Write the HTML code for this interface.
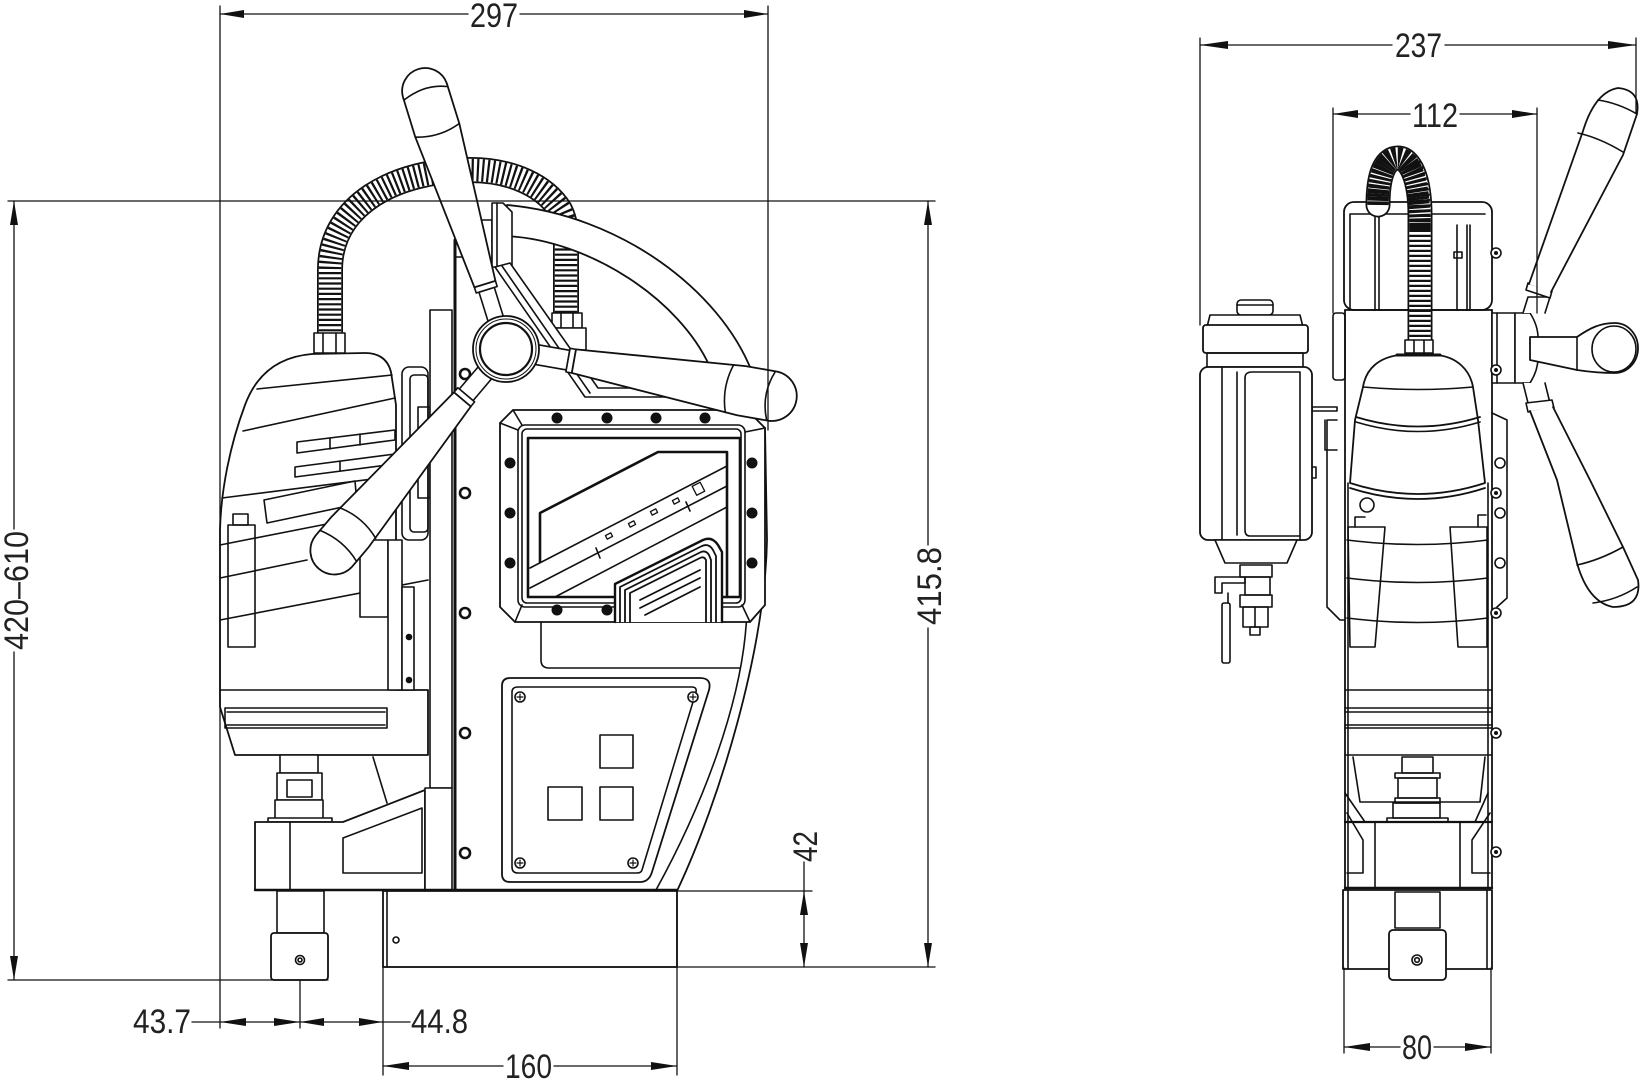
<!DOCTYPE html>
<html><head><meta charset="utf-8">
<style>html,body{margin:0;padding:0;background:#fff;}svg{display:block}</style></head>
<body>
<svg width="1641" height="1080" viewBox="0 0 1641 1080" xmlns="http://www.w3.org/2000/svg">
<rect width="1641" height="1080" fill="#fff"/>
<g fill="none" stroke="#111" stroke-width="1.6" stroke-linejoin="round" stroke-linecap="round">

<!-- ============ LEFT VIEW ============ -->
<!-- hose -->
<path d="M330,347 L330,270 C330,205 395,170 470,170 C512,170 545,186 560,210 C566,222 566,232 566,245 L566,313" stroke-width="26"/>
<path d="M330,347 L330,270 C330,205 395,170 470,170 C512,170 545,186 560,210 C566,222 566,232 566,245 L566,313" stroke="#fff" stroke-width="22.5"/>
<path d="M330,347 L330,270 C330,205 395,170 470,170 C512,170 545,186 560,210 C566,222 566,232 566,245 L566,313" stroke-width="22.5" stroke-dasharray="2.2 3" stroke-linecap="butt"/>
<rect x="314" y="333" width="31" height="20" fill="#fff"/>
<line x1="323" y1="333" x2="323" y2="353"/><line x1="336" y1="333" x2="336" y2="353"/>
<rect x="552" y="313" width="30" height="15" fill="#fff"/>
<line x1="561" y1="313" x2="561" y2="328"/><line x1="573" y1="313" x2="573" y2="328"/>
<rect x="553" y="328" width="33" height="22" fill="#fff"/>

<!-- motor -->
<path d="M220,707 L235,755 L428,755 L428,690 L396,690 L396,405 L391,372 C388,360 380,353 365,353 L312,354 C275,357 255,378 245,405 C230,445 221,490 220,530 Z" fill="#fff" stroke-width="1.8"/>
<line x1="220" y1="690" x2="396" y2="690"/>
<path d="M257,389 L392,375"/>
<path d="M243,431 L395,398"/>
<polygon points="297,442 395,430 395,440 297,453"/>
<line x1="330" y1="438" x2="330" y2="449"/><line x1="360" y1="434" x2="360" y2="445"/>
<polygon points="295,467 395,454 395,464 295,477"/>
<line x1="340" y1="461" x2="340" y2="471"/>
<path d="M222,498 L396,476"/>
<polygon points="264,500 355,481 357,504 267,523"/>
<rect x="228" y="525" width="27" height="122"/>
<rect x="233" y="514" width="15" height="11"/>
<path d="M220,545 L337,522"/>
<path d="M220,578 L307,560"/>
<path d="M220,620 L428,580"/>
<rect x="360" y="540" width="28" height="77" fill="#fff"/>
<rect x="388" y="540" width="14" height="150" fill="#fff"/>
<rect x="402" y="587" width="12" height="103" fill="#fff"/>
<circle cx="409" cy="637" r="2.5" fill="#111"/><circle cx="409" cy="680" r="2.5" fill="#111"/>
<rect x="225" y="708" width="162" height="20"/>
<line x1="227" y1="712" x2="385" y2="712"/><line x1="227" y1="725" x2="385" y2="725"/>

<!-- column -->
<rect x="402" y="367" width="26" height="173" rx="7" fill="#fff"/>
<rect x="410" y="375" width="18" height="157" rx="4"/>
<rect x="418" y="407" width="12" height="91"/>
<rect x="430" y="310" width="22" height="478" fill="#fff"/>
<rect x="480" y="220" width="12" height="40"/>
<rect x="455" y="240" width="8" height="17"/>

<!-- lower mechanism -->
<rect x="280" y="755" width="38" height="18" fill="#fff"/>
<rect x="277" y="773" width="45" height="27" fill="#fff"/>
<rect x="287" y="780" width="25" height="17"/>
<rect x="275" y="800" width="48" height="20" fill="#fff"/>
<rect x="268" y="818" width="64" height="4" fill="#fff"/>
<path d="M373,757 L387,803"/>
<path d="M255,822 L343,822 L425,790 L425,890 L255,890 Z" fill="#fff" stroke-width="1.8"/>
<line x1="290" y1="822" x2="290" y2="890"/>
<path d="M343,838 L422,808 L422,873 L343,873 Z"/>
<rect x="425" y="788" width="27" height="102" fill="#fff"/>
<rect x="277" y="891" width="47" height="42" fill="#fff"/>
<rect x="271" y="933" width="57" height="47" rx="3" fill="#fff" stroke-width="1.8"/>
<circle cx="300" cy="960" r="4.5"/><circle cx="300" cy="960" r="2"/>
<rect x="383" y="891" width="294" height="76" fill="#fff" stroke-width="1.8"/>
<line x1="387" y1="891" x2="387" y2="967"/>
<circle cx="396" cy="940" r="3"/>
<line x1="255" y1="890" x2="677" y2="890" stroke-width="2.4"/>

<!-- body -->
<path d="M765,428 L767,540 C765,650 720,800 677,891" stroke-width="1.8"/>
<path d="M747,608 C745,700 700,810 656,890"/>
<line x1="455" y1="240" x2="455" y2="890" stroke-width="3"/>
<!-- body bolts -->
<g fill="#fff" stroke-width="2.6">
<circle cx="465" cy="374" r="5"/><circle cx="465" cy="493" r="5"/><circle cx="465" cy="613" r="5"/><circle cx="465" cy="733" r="5"/><circle cx="465" cy="853" r="5"/>
</g>

<!-- window frame -->
<path d="M513,410 L747,410 L765,428 L765,605 L750,622 L515,622 L500,607 L500,423 Z" fill="#fff" stroke-width="1.8"/>
<rect x="518" y="425" width="227" height="182" rx="7"/>
<rect x="522" y="429" width="219" height="174" rx="5"/>
<rect x="528" y="438" width="212" height="159" stroke-width="2.6"/>
<path d="M500,423 L518,430 M513,410 L522,425 M765,428 L745,432 M750,622 L742,605 M515,622 L522,605"/>
<!-- window content -->
<path d="M540,562 L540,513 L658,452 L727,452 L727,597" stroke-width="2.6"/>
<path d="M530,568 L727,466"/>
<path d="M530,588 L727,486"/>
<path d="M555,597 L727,507"/>
<path d="M596,548 L600,558 M686,502 L690,511"/>
<g stroke-width="1.3">
<rect x="606" y="534" width="6" height="4" transform="rotate(-27 609 536)"/>
<rect x="629" y="522" width="6" height="4" transform="rotate(-27 632 524)"/>
<rect x="651" y="510" width="6" height="4" transform="rotate(-27 654 512)"/>
<rect x="673" y="499" width="6" height="4" transform="rotate(-27 676 501)"/>
<rect x="694" y="484" width="9" height="10" transform="rotate(-27 698 489)"/>
</g>
<!-- heat sink chevrons -->
<g stroke-width="1.8">
<path d="M615,622 L615,584 L703,540 Q712,536 718,545 L722,552 L722,622" fill="#fff" stroke-width="2.4"/>
<path d="M620,622 L620,587 L702,546 Q709,543 713,550 L716,556 L716,622"/>
<path d="M625,622 L625,590 L701,552 Q706,550 709,555 L711,560 L711,622"/>
<path d="M630,622 L630,593 L700,558 Q704,556 706,560 L706,622"/>
<path d="M640,600 L700,570 M640,608 L700,578 M645,615 L700,587"/>
</g>
<!-- frame bolts -->
<g fill="#111" stroke-width="1">
<circle cx="557" cy="418" r="5"/><circle cx="607" cy="418" r="5"/><circle cx="656" cy="418" r="5"/><circle cx="705" cy="418" r="5"/>
<circle cx="510" cy="463" r="5"/><circle cx="510" cy="513" r="5"/><circle cx="510" cy="563" r="5"/>
<circle cx="752" cy="463" r="5"/><circle cx="752" cy="513" r="5"/><circle cx="752" cy="563" r="5"/>
<circle cx="557" cy="610" r="5"/><circle cx="607" cy="610" r="5"/>
</g>
<path d="M541,622 L541,660 Q541,668 549,668 L740,668"/>

<!-- control panel -->
<path d="M510,678 L700,678 Q712,678 709,690 L652,872 Q649,882 640,882 L510,882 Q502,882 502,874 L502,686 Q502,678 510,678 Z" stroke-width="1.8"/>
<path d="M518,687 L692,687 Q697,687 696,692 L642,870 Q641,873 637,873 L518,873 Q512,873 512,867 L512,692 Q512,687 518,687 Z"/>
<g fill="#fff"><circle cx="520" cy="697" r="5"/><circle cx="693" cy="697" r="5"/><circle cx="520" cy="863" r="5"/><circle cx="633" cy="863" r="5"/></g>
<path d="M517,697 L523,697 M520,694 L520,700 M690,697 L696,697 M693,694 L693,700 M517,863 L523,863 M520,860 L520,866 M630,863 L636,863 M633,860 L633,866" stroke-width="1.2"/>
<rect x="600" y="735" width="33" height="33"/>
<rect x="548" y="787" width="34" height="33"/>
<rect x="600" y="787" width="33" height="33"/>

<!-- arc band -->
<path d="M507,205 C620,215 720,290 752,372 L710,367 C680,300 590,240 506,236 Z" fill="#fff" stroke-width="1.8"/>
<!-- slide -->
<path d="M492,203 L503,203 L512,212 L512,267 L492,267 Z" fill="#fff"/>
<line x1="497" y1="203" x2="497" y2="267"/>
<polygon points="495,267 510,263 598,388 667,388 667,397 585,397" fill="#fff"/>
<line x1="502" y1="266" x2="590" y2="393"/>

<!-- lower-left handle -->
<polygon points="492.5,377.7 473.1,400.6 459.3,389.0 478.8,366.1" fill="#fff"/>
<polygon points="474.6,401.9 470.8,406.5 454.0,392.3 457.8,387.7" fill="#fff"/>
<path d="M470.8,406.5 L368.3,547.6 L352.1,566.7 A24,24 0 0 1 315.5,535.7 L331.7,516.6 L454.0,392.3 Z" fill="#fff" stroke-width="1.8"/>
<path d="M375.6,538.2 Q362.9,516.9 339.8,507.8"/>
<path d="M356.6,561.4 Q343.5,540.0 320.0,530.4"/>

<!-- top handle -->
<polygon points="503.8,318.0 494.3,287.4 479.0,292.2 488.5,322.7" fill="#fff"/>
<polygon points="497.2,286.5 495.4,280.8 474.4,287.3 476.2,293.0" fill="#fff"/>
<path d="M495.4,280.8 L459.3,123.5 L446.8,83.3 A23,23 0 0 0 402.9,96.9 L415.3,137.1 L474.4,287.3 Z" fill="#fff" stroke-width="1.8"/>
<path d="M459.3,123.5 Q439.6,137.9 415.3,137.1"/>
<path d="M446.8,86.5 Q425,84 404.7,99.5"/>

<!-- right handle -->
<polygon points="536.3,344.4 569.7,350.3 566.3,369.9 532.8,364.1" fill="#fff"/>
<polygon points="570.1,348.3 576.0,349.4 571.8,373.0 565.9,371.9" fill="#fff"/>
<path d="M576.0,349.4 L745.7,366.1 L777.2,371.6 A25,25 0 0 1 768.6,420.8 L737.1,415.3 L571.8,373.0 Z" fill="#fff" stroke-width="1.8"/>
<path d="M733.7,364.8 Q721.6,387.2 725.3,412.4"/>
<path d="M775.2,371.8 Q761.1,394.2 766.6,420.0"/>

<!-- hub -->
<circle cx="506" cy="349" r="33" fill="#fff" stroke-width="1.8"/>
<circle cx="506" cy="349" r="30" stroke-width="1"/>
<circle cx="506" cy="349" r="26" stroke-width="2.2"/>

<!-- ============ RIGHT VIEW ============ -->
<!-- top column box -->
<rect x="1344" y="202" width="148" height="108" rx="10" fill="#fff" stroke-width="1.8"/>
<path d="M1350,310 L1350,214 L1485,214"/>
<path d="M1375,217 L1375,310 M1379,217 L1379,310 M1457,225 L1457,310 M1467,225 L1467,310 M1470,225 L1470,310"/>
<rect x="1454" y="252" width="8" height="6"/>
<!-- right hose -->
<path d="M1420,342 L1420,215 C1420,178 1410,158 1398,158 C1386,158 1378,172 1378,205" stroke-width="25"/>
<path d="M1420,342 L1420,215 C1420,178 1410,158 1398,158 C1386,158 1378,172 1378,205" stroke="#fff" stroke-width="21.5"/>
<path d="M1420,342 L1420,215 C1420,178 1410,158 1398,158 C1386,158 1378,172 1378,205" stroke-width="21.5" stroke-dasharray="2.2 2.8" stroke-linecap="butt"/>
<path d="M1420,230 C1420,178 1410,158 1398,158 C1386,158 1378,172 1378,205" stroke-width="21.5" stroke-dasharray="3 1.3" stroke-linecap="butt"/>

<!-- body -->
<line x1="1345" y1="310" x2="1492" y2="310" stroke-width="1.8"/>
<line x1="1345" y1="310" x2="1345" y2="930" stroke-width="1.8"/>
<line x1="1492" y1="310" x2="1492" y2="888" stroke-width="1.8"/>
<line x1="1348" y1="483" x2="1348" y2="888"/>
<line x1="1488" y1="483" x2="1488" y2="888"/>
<rect x="1333" y="313" width="12" height="67" rx="3"/>
<path d="M1337,420 L1327,420 L1327,607 L1340,620 L1345,620"/>
<path d="M1492,413 L1507,420 L1507,598 L1497,607"/>
<path d="M1312,407 L1337,407 L1337,411 L1312,411 Z"/>
<path d="M1325,420 L1325,450 L1337,450"/>

<!-- hub right view -->
<rect x="1492" y="313" width="23" height="70" fill="#fff"/>
<line x1="1497" y1="313" x2="1497" y2="383"/>
<path d="M1515,313 L1530,313 Q1541,330 1537,348 Q1541,366 1530,383 L1515,383 Z" fill="#fff"/>
<!-- upper arm -->
<path d="M1523,313 L1528,297 L1550,297 L1545,313" fill="#fff"/>
<polygon points="1528,283 1552,291 1550,298 1526,290" fill="#fff"/>
<path d="M1529,284 L1583,131 Q1595,92 1618,88 Q1641,90 1637,114 L1623,155 L1551,292" fill="#fff" stroke-width="1.8"/>
<path d="M1578,133 Q1600,138 1623,152"/>
<path d="M1598,100 Q1618,103 1637,114"/>
<!-- horizontal arm -->
<path d="M1530,337 L1577,337 C1590,328 1600,323 1615,323 A23,25 0 0 1 1615,373 C1600,373 1590,372 1577,370 L1530,360 Z" fill="#fff" stroke-width="1.8"/>
<ellipse cx="1614" cy="349" rx="22" ry="23"/>
<line x1="1577" y1="337" x2="1577" y2="370"/>
<!-- lower arm -->
<path d="M1523,383 L1528,403 L1550,403 L1545,383" fill="#fff"/>
<polygon points="1526,403 1552,400 1554,408 1528,412" fill="#fff"/>
<path d="M1530,411 L1557,480 L1577,563 Q1588,602 1613,607 Q1642,607 1638,580 L1623,547 L1590,480 L1553,407" fill="#fff" stroke-width="1.8"/>
<path d="M1577,565 Q1600,560 1623,547"/>
<path d="M1593,603 Q1617,600 1637,587"/>

<!-- bell motor -->
<rect x="1405" y="340" width="28" height="13" fill="#fff"/>
<line x1="1414" y1="340" x2="1414" y2="353"/><line x1="1424" y1="340" x2="1424" y2="353"/>
<path d="M1363,387 C1366,368 1380,357 1400,355 L1437,355 C1457,357 1470,370 1473,387 L1478,420 L1485,483 Q1418,505 1350,483 L1355,420 Z" fill="#fff" stroke-width="1.8"/>
<path d="M1397,355 L1440,355" stroke-width="3"/>
<path d="M1363,387 Q1418,392 1473,387"/>
<path d="M1356,417 Q1418,436 1480,417" stroke-width="1.8"/>
<path d="M1356,422 Q1418,441 1480,422"/>
<path d="M1350,488 Q1418,510 1485,488" stroke-width="1.8"/>
<!-- lower body right view -->
<circle cx="1367" cy="505" r="7"/>
<path d="M1355,527 L1355,517 L1365,517 M1478,527 L1478,515 L1486,515"/>
<path d="M1348,527 L1385,527 L1375,647 L1350,647 Z"/>
<path d="M1450,527 L1487,527 L1487,647 L1458,647 Z"/>
<path d="M1347,540 Q1418,549 1488,540"/>
<path d="M1347,578 Q1418,587 1488,578"/>
<path d="M1347,618 Q1418,627 1488,618"/>
<path d="M1345,690 L1492,690 M1345,708 L1492,708 M1345,712 L1492,712 M1345,725 L1492,725 M1345,728 L1492,728 M1345,755 L1492,755"/>
<path d="M1345,793 L1365,822 M1488,793 L1475,822 M1353,757 L1360,802 L1480,802 L1485,757"/>
<rect x="1402" y="757" width="31" height="16"/>
<rect x="1395" y="773" width="45" height="5"/>
<rect x="1398" y="778" width="39" height="20"/>
<rect x="1395" y="798" width="45" height="5"/>
<rect x="1393" y="803" width="47" height="15"/>
<rect x="1387" y="818" width="61" height="4"/>
<line x1="1345" y1="822" x2="1492" y2="822" stroke-width="2.2"/>
<line x1="1375" y1="822" x2="1375" y2="888"/>
<line x1="1460" y1="822" x2="1460" y2="888"/>
<path d="M1347,813 L1363,840 L1363,873 L1347,873 M1490,813 L1472,840 L1472,873 L1490,873"/>
<line x1="1345" y1="888" x2="1492" y2="888" stroke-width="2.4"/>
<!-- base right view -->
<rect x="1343" y="890" width="149" height="79" fill="#fff" stroke-width="1.8"/>
<line x1="1348" y1="890" x2="1348" y2="969"/><line x1="1487" y1="890" x2="1487" y2="969"/>
<rect x="1395" y="892" width="45" height="36" fill="#fff"/>
<rect x="1389" y="930" width="57" height="50" rx="4" fill="#fff" stroke-width="1.8"/>
<circle cx="1417" cy="960" r="5"/><circle cx="1417" cy="960" r="2.3"/>
<!-- right side bolts -->
<g fill="#fff">
<circle cx="1496" cy="253" r="5"/><circle cx="1496" cy="370" r="5"/><circle cx="1496" cy="493" r="5"/><circle cx="1496" cy="613" r="5"/><circle cx="1496" cy="733" r="5"/><circle cx="1496" cy="852" r="5"/>
<circle cx="1500" cy="463" r="5"/><circle cx="1500" cy="513" r="5"/><circle cx="1500" cy="563" r="5"/>
</g>
<g fill="#111" stroke="none">
<circle cx="1496" cy="253" r="2"/><circle cx="1496" cy="370" r="2"/><circle cx="1496" cy="493" r="2"/><circle cx="1496" cy="613" r="2"/><circle cx="1496" cy="733" r="2"/><circle cx="1496" cy="852" r="2"/>
</g>

<!-- accessory (coolant) -->
<rect x="1237" y="300" width="36" height="15" rx="4" fill="#fff"/>
<line x1="1237" y1="305" x2="1273" y2="305"/>
<path d="M1207,327 L1303,327 L1300,315 L1210,315 Z" fill="#fff"/>
<rect x="1203" y="325" width="105" height="28" rx="3" fill="#fff" stroke-width="1.8"/>
<rect x="1207" y="353" width="96" height="14"/>
<rect x="1200" y="367" width="112" height="173" rx="8" fill="#fff" stroke-width="1.8"/>
<line x1="1222" y1="367" x2="1222" y2="540"/>
<path d="M1237,372 L1237,535 M1245,378 Q1245,372 1252,372 L1300,372 L1300,540"/>
<path d="M1245,378 L1245,530 Q1245,536 1250,536 L1300,536"/>
<path d="M1215,540 L1297,540 L1287,563 L1225,563 Z" fill="#fff"/>
<rect x="1240" y="565" width="32" height="12"/>
<rect x="1245" y="577" width="25" height="18"/>
<rect x="1240" y="595" width="32" height="12"/>
<rect x="1243" y="607" width="25" height="20"/>
<line x1="1255" y1="607" x2="1255" y2="627"/>
<rect x="1250" y="627" width="10" height="8"/>
<path d="M1215,577 L1245,577 L1245,583 L1222,583 L1222,593 L1215,593 Z"/>
<rect x="1222" y="603" width="8" height="60" rx="2"/>
<line x1="1228" y1="593" x2="1228" y2="603"/>
<path d="M1312,467 L1316,467 L1316,478 L1312,478"/>

<!-- ============ DIMENSIONS ============ -->
<g stroke-width="1.3">
<!-- 297 -->
<line x1="220" y1="6" x2="220" y2="1028"/>
<line x1="768" y1="6" x2="768" y2="430"/>
<line x1="220" y1="14" x2="468" y2="14"/><line x1="520" y1="14" x2="768" y2="14"/>
<!-- horizontal top ref -->
<line x1="8" y1="201" x2="935" y2="201"/>
<!-- 420-610 -->
<line x1="14" y1="201" x2="14" y2="529"/><line x1="14" y1="652" x2="14" y2="980"/>
<line x1="8" y1="980" x2="328" y2="980"/>
<!-- 415.8 -->
<line x1="928" y1="201" x2="928" y2="545"/><line x1="928" y1="628" x2="928" y2="967"/>
<line x1="383" y1="967" x2="935" y2="967"/>
<!-- 42 -->
<line x1="677" y1="891" x2="812" y2="891"/>
<line x1="804" y1="862" x2="804" y2="967"/>
<!-- 43.7 / 44.8 -->
<line x1="192" y1="1022" x2="410" y2="1022"/>
<line x1="300" y1="980" x2="300" y2="1028"/>
<line x1="383" y1="967" x2="383" y2="1075"/>
<line x1="677" y1="891" x2="677" y2="1075"/>
<!-- 160 -->
<line x1="383" y1="1066" x2="503" y2="1066"/><line x1="554" y1="1066" x2="677" y2="1066"/>
<!-- 237 -->
<line x1="1200" y1="38" x2="1200" y2="325"/>
<line x1="1636" y1="38" x2="1636" y2="112"/>
<line x1="1200" y1="45" x2="1392" y2="45"/><line x1="1445" y1="45" x2="1636" y2="45"/>
<!-- 112 -->
<line x1="1333" y1="108" x2="1333" y2="313"/>
<line x1="1537" y1="108" x2="1537" y2="313"/>
<line x1="1333" y1="114" x2="1410" y2="114"/><line x1="1460" y1="114" x2="1537" y2="114"/>
<!-- 80 -->
<line x1="1344" y1="968" x2="1344" y2="1053"/>
<line x1="1491" y1="968" x2="1491" y2="1053"/>
<line x1="1344" y1="1047" x2="1400" y2="1047"/><line x1="1434" y1="1047" x2="1491" y2="1047"/>
</g>
<!-- arrowheads -->
<g fill="#111" stroke="none">
<polygon points="220,14 244,10 244,18"/><polygon points="768,14 744,10 744,18"/>
<polygon points="14,201 10,225 18,225"/><polygon points="14,980 10,956 18,956"/>
<polygon points="928,201 924,225 932,225"/><polygon points="928,967 924,943 932,943"/>
<polygon points="804,891 800,915 808,915"/><polygon points="804,967 800,943 808,943"/>
<polygon points="220,1022 246,1018 246,1026"/><polygon points="300,1022 274,1018 274,1026"/>
<polygon points="300,1022 324,1018 324,1026"/><polygon points="383,1022 359,1018 359,1026"/>
<polygon points="383,1066 409,1062 409,1070"/><polygon points="677,1066 651,1062 651,1070"/>
<polygon points="1200,45 1228,41 1228,49"/><polygon points="1636,45 1608,41 1608,49"/>
<polygon points="1333,114 1358,110 1358,118"/><polygon points="1537,114 1512,110 1512,118"/>
<polygon points="1344,1047 1370,1043 1370,1051"/><polygon points="1491,1047 1465,1043 1465,1051"/>
</g>
</g>

<!-- labels -->
<g font-family="'Liberation Sans', sans-serif" font-size="34" fill="#222" lengthAdjust="spacingAndGlyphs">
<text x="470" y="27" textLength="48" lengthAdjust="spacingAndGlyphs">297</text>
<text x="1395" y="57" textLength="47" lengthAdjust="spacingAndGlyphs">237</text>
<text x="1412" y="127" textLength="46" lengthAdjust="spacingAndGlyphs">112</text>
<text x="1402" y="1059" textLength="30" lengthAdjust="spacingAndGlyphs">80</text>
<text x="505" y="1078" textLength="47" lengthAdjust="spacingAndGlyphs">160</text>
<text x="133" y="1033" textLength="58" lengthAdjust="spacingAndGlyphs">43.7</text>
<text x="411" y="1033" textLength="57" lengthAdjust="spacingAndGlyphs">44.8</text>
<text transform="translate(28,650) rotate(-90)" x="0" y="0" textLength="119" lengthAdjust="spacingAndGlyphs">420–610</text>
<text transform="translate(941,625) rotate(-90)" x="0" y="0" textLength="78" lengthAdjust="spacingAndGlyphs">415.8</text>
<text transform="translate(817,862) rotate(-90)" x="0" y="0" textLength="31" lengthAdjust="spacingAndGlyphs">42</text>
</g>
</svg>
</body></html>
